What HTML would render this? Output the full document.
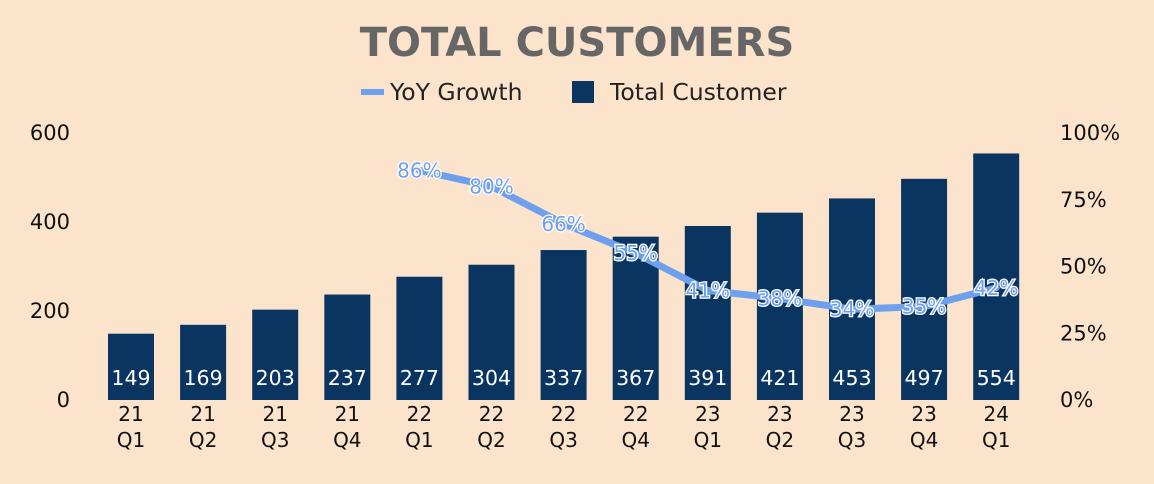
<!DOCTYPE html>
<html><head><meta charset="utf-8"><style>
html,body{margin:0;padding:0;background:#fce4cc;}
svg{display:block;font-family:"DejaVu Sans","Liberation Sans",sans-serif;}
</style></head><body>
<svg id="chart" width="1154" height="484">
<rect width="1154" height="484" fill="#fce4cc"/>
<text x="577" y="56" text-anchor="middle" font-size="40" font-weight="bold" fill="#666">TOTAL CUSTOMERS</text>
<g>
<g><line x1="361" y1="92" x2="384" y2="92" stroke="#6fa0ee" stroke-width="6"/><text x="390" y="100" font-size="23.5" fill="#222">YoY Growth</text></g>
<g><rect x="572" y="81" width="22" height="22" fill="#0a3560"/><text x="610" y="100" font-size="23.5" fill="#222">Total Customer</text></g>
</g>
<g id="bars"></g>
<g id="axes"></g>
<g id="line"></g>
</svg>
<script>
const categories=[["21","Q1"],["21","Q2"],["21","Q3"],["21","Q4"],["22","Q1"],["22","Q2"],["22","Q3"],["22","Q4"],["23","Q1"],["23","Q2"],["23","Q3"],["23","Q4"],["24","Q1"]];
const customers=[149,169,203,237,277,304,337,367,391,421,453,497,554];
const growth=[null,null,null,null,86,80,66,55,41,38,34,35,42];
const leftTicks=[0,200,400,600];
const rightTicks=[0,25,50,75,100];
const NS="http://www.w3.org/2000/svg";
const x0=131,step=72.1,yB=400,yT=133,bw=46;
function xs(i){return x0+i*step;}
function yl(v){return yB-(v/600)*(yB-yT);}
function yr(v){return yB-(v/100)*(yB-yT);}
function mk(tag,attrs,parent,txt){const e=document.createElementNS(NS,tag);for(const k in attrs)e.setAttribute(k,attrs[k]);if(txt!==undefined)e.textContent=txt;parent.appendChild(e);return e;}
const gb=document.getElementById('bars'),ga=document.getElementById('axes'),gl=document.getElementById('line');
customers.forEach((v,i)=>{
 const r=mk('rect',{x:xs(i)-bw/2,y:yl(v),width:bw,height:yB-yl(v),fill:'#0a3560'},gb);
 
 
 const t=mk('text',{x:xs(i),y:385,'text-anchor':'middle','font-size':20.5,fill:'#fff'},gb,String(v));
 
 
 const c=mk('text',{'text-anchor':'middle','font-size':20,fill:'#111'},ga);
 
 
 mk('tspan',{x:xs(i),y:421},c,categories[i][0]);
 mk('tspan',{x:xs(i),y:447},c,categories[i][1]);
});
leftTicks.forEach(v=>{
 const t=mk('text',{x:70,y:yl(v)+7,'text-anchor':'end','font-size':21,fill:'#111'},ga,String(v));
 
 
});
rightTicks.forEach(v=>{
 const t=mk('text',{x:1060,y:yr(v)+7,'text-anchor':'start','font-size':21,fill:'#111'},ga,v+'%');
 
 
});
const pts=[];growth.forEach((g,i)=>{if(g!==null)pts.push([xs(i),yr(g),g]);});
const p=mk('polyline',{points:pts.map(q=>q[0]+','+q[1]).join(' '),fill:'none',stroke:'#6fa0ee','stroke-width':7,'stroke-linejoin':'round','stroke-linecap':'round'},gl);


pts.forEach(q=>{
 const t=mk('text',{x:q[0],y:q[1]+7,'text-anchor':'middle','font-size':20,fill:'#6fa0ee',stroke:'#fff','stroke-width':2.5,'paint-order':'stroke'},gl,q[2]+'%');
 
 
});
</script>
</body></html>
